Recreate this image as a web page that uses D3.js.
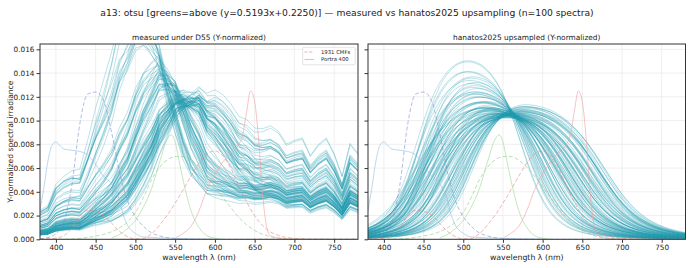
<!DOCTYPE html>
<html><head><meta charset="utf-8">
<script src="https://cdn.jsdelivr.net/npm/d3@7"></script>
<style>
body{margin:0;background:#fff}
svg{display:block}
text{font-family:"DejaVu Sans",sans-serif;fill:#222}
</style>
</head><body>
<svg id="c" width="690" height="268"></svg>
<script>
// ---------- data ----------
const wavelengths = d3.range(380, 781, 10);
const d55 = [32.58,38.09,60.95,68.58,71.55,67.91,85.61,97.99,100.46,99.91,102.74,98.08,100.68,100.69,100.00,104.21,102.10,102.97,100.00,97.22,97.75,91.43,94.42,95.14,94.22,90.45,92.33,88.85,90.32,93.95,89.96,79.67,82.85,84.84,70.24,79.30,85.04,71.88,52.98,80.33,72.00];
const cmfX = [0.0014,0.0042,0.0143,0.0435,0.1344,0.2839,0.3483,0.3362,0.2908,0.1954,0.0956,0.0320,0.0049,0.0093,0.0633,0.1655,0.2904,0.4334,0.5945,0.7621,0.9163,1.0263,1.0622,1.0026,0.8544,0.6424,0.4479,0.2835,0.1649,0.0874,0.0468,0.0227,0.0114,0.0058,0.0029,0.0014,0.0007,0.0003,0.0002,0.0001,0.0000];
const cmfY = [0.0000,0.0001,0.0004,0.0012,0.0040,0.0116,0.0230,0.0380,0.0600,0.0910,0.1390,0.2080,0.3230,0.5030,0.7100,0.8620,0.9540,0.9950,0.9950,0.9520,0.8700,0.7570,0.6310,0.5030,0.3810,0.2650,0.1750,0.1070,0.0610,0.0320,0.0170,0.0082,0.0041,0.0021,0.0010,0.0005,0.0002,0.0001,0.0001,0.0000,0.0000];
const cmfZ = [0.0065,0.0201,0.0679,0.2074,0.6456,1.3856,1.7471,1.7721,1.6692,1.2876,0.8130,0.4652,0.2720,0.1582,0.0783,0.0422,0.0203,0.0088,0.0039,0.0021,0.0017,0.0011,0.0008,0.0003,0.0002,0.0000,0.0000,0,0,0,0,0,0,0,0,0,0,0,0,0,0];
const cmfScale = 0.0070;

const portraBlue = [[380,0.0024],[385,0.0044],[390,0.0066],[395,0.0079],[400,0.0082],[405,0.0079],[410,0.0076],[420,0.0075],[430,0.0074],[440,0.0071],[450,0.0063],[460,0.0053],[470,0.0047],[480,0.0033],[485,0.0020],[490,0.0012],[500,0.0005],[510,0.0002],[540,0.0001],[600,0.0000]];
const portraGreen = [[470,0.0001],[480,0.0004],[490,0.0009],[500,0.0016],[510,0.0027],[520,0.0042],[530,0.0064],[540,0.0084],[545,0.0088],[550,0.0082],[555,0.0066],[560,0.0050],[570,0.0024],[580,0.0010],[590,0.0003],[600,0.0001],[610,0.0000]];
const portraRed = [[550,0.0001],[560,0.0005],[570,0.0011],[580,0.0024],[590,0.0042],[600,0.0055],[610,0.0065],[620,0.0073],[630,0.0080],[635,0.0088],[640,0.0108],[645,0.0125],[650,0.0116],[655,0.0084],[660,0.0038],[665,0.0011],[670,0.0003],[680,0.0001],[700,0.0000]];

// measured samples: [blue floor, green peak nm, green width nm, red floor] (reflectance, relative)
const measuredRows = [
[0.45,505,44,0.30],[0.52,508,46,0.35],[0.40,502,42,0.28],[0.60,510,48,0.40],[0.36,512,44,0.32],[0.66,506,50,0.45],[0.44,514,46,0.26],[0.50,500,43,0.38],[0.56,511,42,0.30],[0.38,507,48,0.42],[0.62,513,45,0.34],[0.42,509,41,0.36],[0.54,503,47,0.27],[0.70,515,49,0.40],[0.35,510,50,0.30],
[0.30,525,46,0.40],[0.36,528,49,0.45],[0.25,530,44,0.35],[0.42,522,48,0.50],[0.22,533,50,0.42],[0.33,536,52,0.55],[0.48,526,44,0.38],[0.27,531,47,0.60],[0.20,538,49,0.48],[0.38,529,54,0.44],[0.31,534,46,0.36],[0.50,524,50,0.52],[0.24,537,52,0.40],[0.35,532,42,0.58],[0.21,540,48,0.46],[0.44,527,51,0.34],[0.29,535,45,0.50],[0.33,523,43,0.42],[0.25,539,53,0.56],[0.40,530,48,0.38],[0.23,526,50,0.62],[0.32,536,44,0.44],[0.47,521,47,0.48],[0.20,533,54,0.52],[0.37,538,46,0.40],[0.28,528,52,0.36],[0.42,534,49,0.58],[0.19,531,45,0.46],[0.34,525,48,0.54],[0.30,540,51,0.42],
[0.20,550,48,0.80],[0.17,555,60,0.92],[0.24,553,45,0.75],[0.15,557,64,1.04],[0.27,551,47,0.69],[0.18,560,60,1.15],[0.22,554,53,0.86],[0.14,558,58,0.98],[0.25,548,49,0.78],[0.16,562,66,1.09],[0.21,556,44,0.83],[0.28,549,62,0.71],[0.17,563,48,1.21],[0.20,552,66,0.90],[0.13,559,51,1.01],[0.26,547,58,0.67],[0.18,561,49,1.06],[0.22,555,57,0.76],[0.15,564,53,1.26],[0.23,551,64,0.85],[0.16,557,45,0.94],[0.21,553,62,1.10],[0.28,546,48,0.74],[0.14,560,59,0.99],[0.20,558,54,0.80],[0.17,554,58,1.15],[0.24,550,51,0.87],[0.15,562,62,0.97],[0.19,549,49,1.03],[0.22,556,64,0.78],
[0.15,550,62,0.40],[0.13,555,67,0.50],[0.16,560,64,0.45],[0.12,565,70,0.55],[0.18,545,60,0.35],[0.14,568,68,0.60],[0.19,552,66,0.42],[0.13,558,62,0.65],[0.16,563,72,0.48],[0.12,566,64,0.38],[0.20,548,69,0.52],[0.15,556,61,0.58],[0.17,561,67,0.44],[0.13,564,63,0.30],[0.16,553,70,0.36],[0.21,547,65,0.46],[0.14,562,59,0.54],[0.12,559,68,0.32],[0.18,555,62,0.40],[0.15,569,66,0.50],[0.13,551,64,0.56],[0.17,557,71,0.36],[0.14,562,60,0.34],[0.20,549,67,0.60],[0.16,567,63,0.44]
];

// upsampled spectra: [peak nm, blue-side width nm, red-side width nm]
const upsampledRows = [
[505,70,80],[507,74,84],[510,68,86],[512,76,82],[508,78,90],[514,72,88],[516,80,92],[511,66,94],[518,76,86],[513,82,96],[506,76,78],[509,71,92],[515,68,84],[517,74,98],[519,78,90],[520,84,94],[504,72,88],[512,80,100],[516,70,96],[521,76,102],
[522,80,92],[525,85,98],[528,78,104],[524,92,96],[530,88,100],[527,96,106],[532,82,94],[535,90,104],[526,100,106],[533,76,108],[538,86,102],[531,94,98],[536,98,108],[529,84,90],[540,80,106],[534,102,104],[537,90,96],[541,95,108],[523,88,100],[539,78,98],[543,92,106],[528,104,104],[545,85,108],[532,96,102],[536,72,100],[542,100,106],[530,90,108],[544,80,104],[526,94,94],[538,106,106],
[546,92,102],[550,86,108],[548,100,104],[552,80,112],[555,95,106],[549,108,110],[553,88,100],[557,84,116],[551,102,114],[547,96,98],[556,78,108],[558,92,118],[554,104,102],[560,86,110],[545,110,106],[559,98,114],[562,82,112],[550,94,116],[563,90,104],[548,84,110],[561,100,108],[557,106,116],[564,80,118],[552,90,106],[555,76,114],[559,94,102],[546,102,112],[565,88,116],[553,98,110],[562,92,108],
[566,84,112],[568,78,116],[570,88,108],[572,82,114],[574,76,110],[576,86,116],[578,80,112],[580,84,115],[567,90,110],[569,74,118],[571,92,106],[573,80,114],[575,88,112],[577,78,118],[579,86,108],[566,94,114],[570,82,118],[574,90,110],[578,76,114],[572,86,116]
];

const xTicks = [400,450,500,550,600,650,700,750];
const yTicks = [0,0.002,0.004,0.006,0.008,0.010,0.012,0.014,0.016];
const titleText = "a13: otsu [greens=above (y=0.5193x+0.2250)] \u2014 measured vs hanatos2025 upsampling (n=100 spectra)";

// ---------- derived spectra ----------
function reflectance(row, l){
  const [b, mu, w, r] = row;
  const t = 1/(1+Math.exp(-(l-mu-15)/15));
  return b + (r-b)*t + Math.exp(-Math.pow((l-mu)/w, 2));
}
const measured = measuredRows.map(row => {
  const s = wavelengths.map((l,i) => reflectance(row,l)*d55[i]);
  const Y = d3.sum(s, (v,i) => v*cmfY[i]*10);
  return s.map((v,i) => [wavelengths[i], v/Y]);
});
const fine = d3.range(380, 781, 5);
const yInterp = l => { const i = Math.min(39, Math.floor((l-380)/10)); const f=(l-380-i*10)/10; return cmfY[i]*(1-f)+cmfY[i+1]*f; };
function sigmoidSpec(row, l){
  const [mu, wl, wr] = row;
  const w = l < mu ? wl : wr;
  const x = 0.5 - Math.pow((l-mu)/w, 2);
  return 0.5 + x/(2*Math.sqrt(1+x*x));
}
const upsampled = upsampledRows.map(row => {
  const s = fine.map(l => sigmoidSpec(row,l));
  const Y = d3.sum(s, (v,i) => v*yInterp(fine[i])*5);
  return s.map((v,i) => [fine[i], v/Y]);
});
const cmfLines = [
  {d: wavelengths.map((l,i)=>[l,cmfZ[i]*cmfScale]), c:"rgb(125,145,210)"},
  {d: wavelengths.map((l,i)=>[l,cmfY[i]*cmfScale]), c:"rgb(140,200,130)"},
  {d: wavelengths.map((l,i)=>[l,cmfX[i]*cmfScale]), c:"rgb(235,130,130)"}
];
const portraLines = [
  {d: portraBlue, c:"rgb(155,193,226)"},
  {d: portraGreen, c:"rgb(165,218,155)"},
  {d: portraRed, c:"rgb(243,165,165)"}
];

// ---------- drawing ----------
const svg = d3.select("#c");
svg.append("text").attr("x",347).attr("y",16).attr("text-anchor","middle").attr("font-size",9.2).text(titleText);

const yScale = d3.scaleLinear([0,0.01645],[239.3,44]);
const panels = [
  {x0:40, x1:358, data:measured, title:"measured under D55 (Y-normalized)", labels:true, legend:true},
  {x0:368, x1:685.5, data:upsampled, title:"hanatos2025 upsampled (Y-normalized)", labels:false, legend:false}
];
panels.forEach((p,pi) => {
  const x = d3.scaleLinear([380,780],[p.x0,p.x1]);
  const g = svg.append("g");
  const clipId = "clip"+pi;
  svg.append("clipPath").attr("id",clipId).append("rect")
    .attr("x",p.x0).attr("y",44).attr("width",p.x1-p.x0).attr("height",239.3-44);
  g.selectAll(".gx").data(xTicks).join("line").attr("x1",d=>x(d)).attr("x2",d=>x(d))
    .attr("y1",44).attr("y2",239.3).attr("stroke","#ebebeb").attr("stroke-width",0.8);
  g.selectAll(".gy").data(yTicks).join("line").attr("y1",d=>yScale(d)).attr("y2",d=>yScale(d))
    .attr("x1",p.x0).attr("x2",p.x1).attr("stroke","#ebebeb").attr("stroke-width",0.8);
  const line = d3.line().x(d=>x(d[0])).y(d=>yScale(d[1]));
  const smooth = d3.line().x(d=>x(d[0])).y(d=>yScale(d[1])).curve(d3.curveMonotoneX);
  const plot = g.append("g").attr("clip-path",`url(#${clipId})`);
  plot.selectAll(".spec").data(p.data).join("path").attr("d",line)
    .attr("fill","none").attr("stroke","rgb(38,158,178)").attr("stroke-opacity",0.4).attr("stroke-width",0.75);
  plot.selectAll(".cmf").data(cmfLines).join("path").attr("d",d=>smooth(d.d))
    .attr("fill","none").attr("stroke",d=>d.c).attr("stroke-opacity",0.6).attr("stroke-width",1)
    .attr("stroke-dasharray","4,2.2");
  plot.selectAll(".por").data(portraLines).join("path").attr("d",d=>smooth(d.d))
    .attr("fill","none").attr("stroke",d=>d.c).attr("stroke-opacity",0.65).attr("stroke-width",1);
  g.append("rect").attr("x",p.x0).attr("y",44).attr("width",p.x1-p.x0).attr("height",239.3-44)
    .attr("fill","none").attr("stroke","#333").attr("stroke-width",1);
  const ax = d3.axisBottom(x).tickValues(xTicks).tickSize(3.5).tickPadding(2).tickSizeOuter(0);
  const gx = g.append("g").attr("transform",`translate(0,239.3)`).call(ax);
  gx.select(".domain").remove();
  gx.selectAll("line").attr("stroke","#333");
  gx.selectAll("text").attr("font-size",7.3).attr("fill","#222").attr("font-family","DejaVu Sans");
  const ay = d3.axisLeft(yScale).tickValues(yTicks).tickSize(3.5).tickPadding(2).tickFormat(p.labels?d3.format(".3f"):"").tickSizeOuter(0);
  const gy = g.append("g").attr("transform",`translate(${p.x0},0)`).call(ay);
  gy.select(".domain").remove();
  gy.selectAll("line").attr("stroke","#333");
  gy.selectAll("text").attr("font-size",7.3).attr("fill","#222").attr("font-family","DejaVu Sans");
  g.append("text").attr("x",(p.x0+p.x1)/2).attr("y",40).attr("text-anchor","middle").attr("font-size",7.4).text(p.title);
  g.append("text").attr("x",(p.x0+p.x1)/2).attr("y",260).attr("text-anchor","middle").attr("font-size",7.8).text("wavelength \u03bb  (nm)");
  if (p.legend){
    const lg = g.append("g");
    lg.append("rect").attr("x",302.7).attr("y",47.3).attr("width",52.5).attr("height",17.5).attr("rx",1.5)
      .attr("fill","#fff").attr("fill-opacity",0.85).attr("stroke","#d0d0d0").attr("stroke-width",0.6);
    lg.append("line").attr("x1",304.5).attr("x2",314).attr("y1",52).attr("y2",52)
      .attr("stroke","rgb(235,130,130)").attr("stroke-opacity",0.65).attr("stroke-dasharray","3,1.6");
    lg.append("line").attr("x1",304.5).attr("x2",314).attr("y1",59.5).attr("y2",59.5)
      .attr("stroke","rgb(243,165,165)").attr("stroke-opacity",0.8);
    lg.append("text").attr("x",321).attr("y",53.8).attr("font-size",5.3).text("1931 CMFs");
    lg.append("text").attr("x",321).attr("y",61.3).attr("font-size",5.3).text("Portra 400");
  }
});
svg.append("text").attr("transform","translate(12.5,141.6) rotate(-90)").attr("text-anchor","middle")
  .attr("font-size",7.6).text("Y-normalized spectral irradiance");
</script>
</body></html>
